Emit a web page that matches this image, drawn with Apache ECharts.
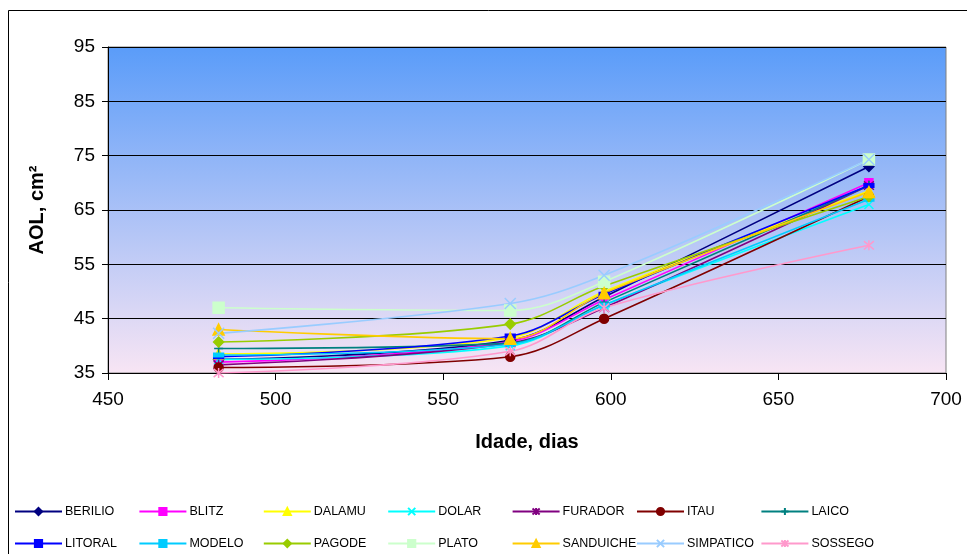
<!DOCTYPE html>
<html>
<head>
<meta charset="utf-8">
<script src="https://cdn.jsdelivr.net/npm/echarts@6/dist/echarts.min.js"></script>
<style>
  html, body { margin: 0; padding: 0; background: #fff; }
  #chart { width: 967px; height: 554px; }
</style>
</head>
<body>
<div id="chart"></div>
<script>
// Idade (dias) at each measurement
const dias = [483, 570, 598, 677];

// AOL (cm²) per line at each age
const BERILIO   = [37.5, 41.0, 49.0, 73.0];
const BLITZ     = [37.0, 40.8, 48.5, 70.0];
const DALAMU    = [38.5, 41.5, 50.0, 68.5];
const DOLAR     = [37.5, 40.0, 47.5, 66.0];
const FURADOR   = [36.5, 40.5, 47.0, 69.5];
const ITAU      = [36.0, 38.0, 45.0, 67.5];
const LAICO     = [39.5, 40.5, 48.0, 69.5];
const LITORAL   = [38.0, 41.8, 49.5, 69.5];
const MODELO    = [38.3, 40.3, 47.5, 67.0];
const PAGODE    = [40.7, 44.0, 51.0, 67.5];
const PLATO     = [47.0, 46.5, 51.8, 74.3];
const SANDUICHE = [43.0, 41.3, 49.7, 68.3];
const SIMPATICO = [42.3, 47.8, 53.0, 74.3];
const SOSSEGO   = [35.0, 39.0, 47.0, 58.5];

const yTicks = [35, 45, 55, 65, 75, 85, 95];
const xTicks = [450, 500, 550, 600, 650, 700];

// marker shapes
const X_MARK    = 'path://M0,0L10,10M10,0L0,10';
const STAR_MARK = 'path://M0,0L10,10M10,0L0,10M5,-1L5,11';
const PLUS_MARK = 'path://M5,0L5,10M0,5L10,5';

const lines = [
  { name: 'BERILIO',   data: BERILIO,   color: '#000080', symbol: 'diamond',  size: 10 },
  { name: 'BLITZ',     data: BLITZ,     color: '#FF00FF', symbol: 'rect',     size: 8 },
  { name: 'DALAMU',    data: DALAMU,    color: '#FFFF00', symbol: 'triangle', size: 10 },
  { name: 'DOLAR',     data: DOLAR,     color: '#00FFFF', symbol: X_MARK,     size: 9 },
  { name: 'FURADOR',   data: FURADOR,   color: '#800080', symbol: STAR_MARK,  size: 10 },
  { name: 'ITAU',      data: ITAU,      color: '#800000', symbol: 'circle',   size: 9 },
  { name: 'LAICO',     data: LAICO,     color: '#008080', symbol: PLUS_MARK,  size: 9 },
  { name: 'LITORAL',   data: LITORAL,   color: '#0000FF', symbol: 'rect',     size: [9, 4] },
  { name: 'MODELO',    data: MODELO,    color: '#00CCFF', symbol: 'rect',     size: [9, 4] },
  { name: 'PAGODE',    data: PAGODE,    color: '#99CC00', symbol: 'diamond',  size: 10 },
  { name: 'PLATO',     data: PLATO,     color: '#CCFFCC', symbol: 'rect',     size: 11 },
  { name: 'SANDUICHE', data: SANDUICHE, color: '#FFCC00', symbol: 'triangle', size: 11 },
  { name: 'SIMPATICO', data: SIMPATICO, color: '#99CCFF', symbol: X_MARK,     size: 11 },
  { name: 'SOSSEGO',   data: SOSSEGO,   color: '#FF99CC', symbol: STAR_MARK,  size: 10 }
];

const FONT = '"Liberation Sans", Arial, sans-serif';

const series = lines.map(l => ({
  name: l.name,
  type: 'line',
  smooth: 0.35,
  data: dias.map((d, i) => [d, l.data[i]]),
  symbol: l.symbol,
  symbolSize: l.size,
  showAllSymbol: true,
  lineStyle: { color: l.color, width: 1.6 },
  itemStyle: { color: l.color, borderColor: l.color, borderWidth: 1.5 },
  emphasis: { disabled: true },
  z: 3
}));

// one legend block per entry, laid out on a 7 x 2 grid
const legends = lines.map((l, i) => ({
  data: [l.name],
  left: 14 + (i % 7) * 124.4,
  top: i < 7 ? 505 : 537,
  itemWidth: 47,
  itemHeight: 9,
  itemGap: 3,
  selectedMode: false,
  padding: 0,
  textStyle: { fontFamily: FONT, fontSize: 12.5, color: '#000', padding: [0, 0, 0, -2] }
}));

const chart = echarts.init(document.getElementById('chart'), null, { renderer: 'canvas' });
chart.setOption({
  animation: false,
  backgroundColor: '#fff',
  graphic: [{
    type: 'rect',
    shape: { x: 8.5, y: 10.5, width: 1000, height: 600 },
    style: { fill: 'none', stroke: '#000', lineWidth: 1 },
    silent: true,
    z: -10
  }],
  legend: legends,
  grid: {
    left: 108, right: 21, top: 47, bottom: 181,
    show: true,
    borderColor: '#808080',
    borderWidth: 1,
    backgroundColor: {
      type: 'linear', x: 0, y: 0, x2: 0, y2: 1,
      colorStops: [
        { offset: 0, color: '#5A9CF9' },
        { offset: 1, color: '#F8E5F4' }
      ]
    }
  },
  xAxis: {
    type: 'value',
    min: xTicks[0], max: xTicks[xTicks.length - 1], interval: 50,
    name: 'Idade, dias',
    nameLocation: 'middle',
    nameGap: 59,
    nameTextStyle: { fontFamily: FONT, fontSize: 20, fontWeight: 'bold', color: '#000' },
    axisLine: { show: true, lineStyle: { color: '#000', width: 1 } },
    axisTick: { show: true, length: 7, lineStyle: { color: '#000' } },
    axisLabel: { fontFamily: FONT, fontSize: 19, color: '#000', margin: 17 },
    splitLine: { show: false }
  },
  yAxis: {
    type: 'value',
    min: yTicks[0], max: yTicks[yTicks.length - 1], interval: 10,
    name: 'AOL, cm²',
    nameLocation: 'middle',
    nameGap: 61,
    nameRotate: 90,
    nameTextStyle: { fontFamily: FONT, fontSize: 20, fontWeight: 'bold', color: '#000' },
    axisLine: { show: true, lineStyle: { color: '#000', width: 1 } },
    axisTick: { show: true, length: 6, lineStyle: { color: '#000' } },
    axisLabel: { fontFamily: FONT, fontSize: 19, color: '#000', margin: 13 },
    splitLine: { show: true, lineStyle: { color: '#000', width: 1 } }
  },
  series: series
});
</script>
</body>
</html>
